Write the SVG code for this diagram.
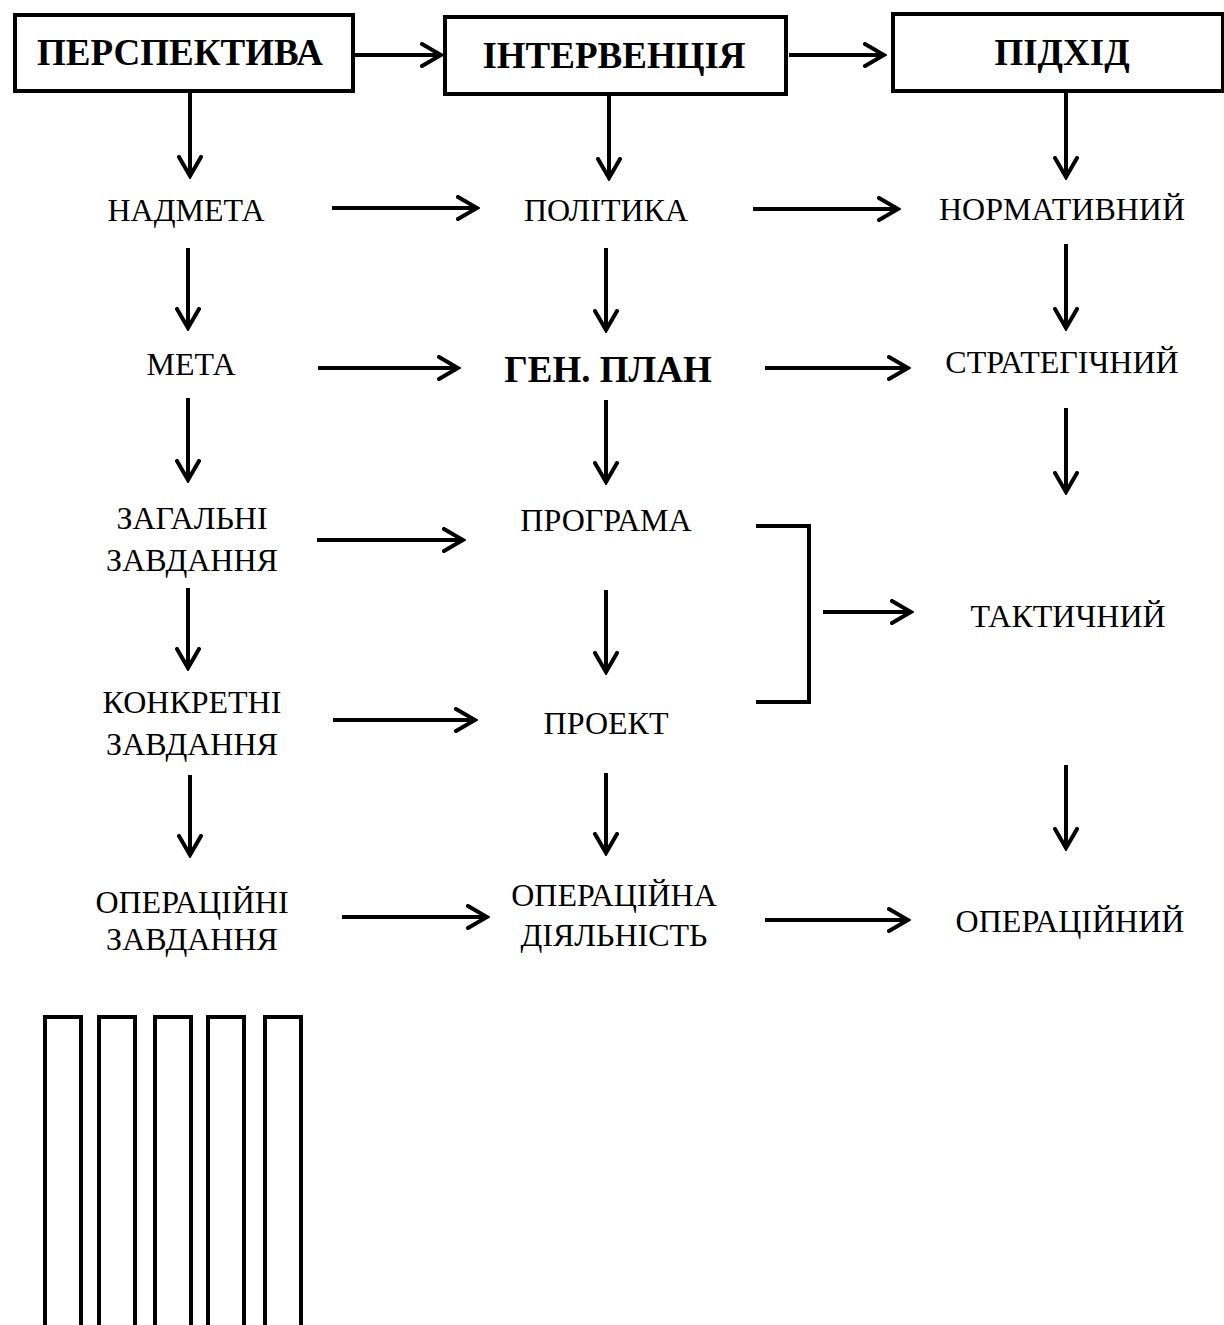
<svg xmlns="http://www.w3.org/2000/svg" width="1224" height="1325" viewBox="0 0 1224 1325">
<defs>
<marker id="ah" viewBox="0 0 24 26" markerWidth="24" markerHeight="26" markerUnits="userSpaceOnUse" refX="21" refY="13" orient="auto">
<path d="M2,2 L21,13 L2,24" fill="none" stroke="#000" stroke-width="4" stroke-linecap="round" stroke-linejoin="miter"/>
</marker>
</defs>
<style>
.box{fill:#fff;stroke:#000;stroke-width:4}
.hd{font-family:"Liberation Serif","Times New Roman",serif;font-weight:bold;font-size:37px;text-anchor:middle;fill:#000}
.t{font-family:"Liberation Serif","Times New Roman",serif;font-size:32px;text-anchor:middle;fill:#000}
.b{font-family:"Liberation Serif","Times New Roman",serif;font-weight:bold;font-size:37px;text-anchor:middle;fill:#000}
.c{stroke:#000;stroke-width:4;fill:none}
.a{stroke:#000;stroke-width:4;fill:none;marker-end:url(#ah)}
</style>
<rect width="1224" height="1325" fill="#fff"/>
<g id="connectors">
<line class="a" x1="355" y1="55" x2="441" y2="55"/>
<line class="a" x1="789" y1="55" x2="884" y2="55"/>
<line class="a" x1="190" y1="92" x2="190" y2="176"/>
<line class="a" x1="609" y1="96" x2="609" y2="178"/>
<line class="a" x1="1066" y1="92" x2="1066" y2="177"/>
<line class="a" x1="332" y1="208" x2="477" y2="208"/>
<line class="a" x1="753" y1="209" x2="898" y2="209"/>
<line class="a" x1="188" y1="248" x2="188" y2="328"/>
<line class="a" x1="606" y1="248" x2="606" y2="330"/>
<line class="a" x1="1066" y1="244" x2="1066" y2="328"/>
<line class="a" x1="318" y1="368" x2="458" y2="368"/>
<line class="a" x1="765" y1="368" x2="908" y2="368"/>
<line class="a" x1="188" y1="398" x2="188" y2="480"/>
<line class="a" x1="606" y1="400" x2="606" y2="482"/>
<line class="a" x1="1066" y1="408" x2="1066" y2="492"/>
<line class="a" x1="317" y1="540" x2="463" y2="540"/>
<path class="c" d="M756,526 H809 V702 H756"/>
<line class="a" x1="823" y1="612" x2="911" y2="612"/>
<line class="a" x1="188" y1="588" x2="188" y2="668"/>
<line class="a" x1="606" y1="590" x2="606" y2="672"/>
<line class="a" x1="333" y1="720" x2="475" y2="720"/>
<line class="a" x1="190" y1="775" x2="190" y2="855"/>
<line class="a" x1="606" y1="773" x2="606" y2="853"/>
<line class="a" x1="1066" y1="765" x2="1066" y2="848"/>
<line class="a" x1="342" y1="917" x2="487" y2="917"/>
<line class="a" x1="765" y1="920" x2="908" y2="920"/>
</g>
<g id="n-perspektyva"><rect class="box" x="15" y="15" width="338" height="76"/><text class="hd" x="180" y="65">ПЕРСПЕКТИВА</text></g>
<g id="n-interventsiya"><rect class="box" x="445" y="17" width="341" height="77"/><text class="hd" x="614" y="68">ІНТЕРВЕНЦІЯ</text></g>
<g id="n-pidkhid"><rect class="box" x="893" y="14" width="330" height="77"/><text class="hd" x="1062" y="65">ПІДХІД</text></g>
<g id="n-nadmeta"><text class="t" x="186" y="221">НАДМЕТА</text></g>
<g id="n-polityka"><text class="t" x="606" y="221">ПОЛІТИКА</text></g>
<g id="n-normatyvnyi"><text class="t" x="1062" y="220">НОРМАТИВНИЙ</text></g>
<g id="n-meta"><text class="t" x="191" y="375">МЕТА</text></g>
<g id="n-genplan"><text class="b" x="608" y="382">ГЕН. ПЛАН</text></g>
<g id="n-stratehichnyi"><text class="t" x="1062" y="373">СТРАТЕГІЧНИЙ</text></g>
<g id="n-zahalni"><text class="t" x="192" y="529">ЗАГАЛЬНІ</text><text class="t" x="192" y="571">ЗАВДАННЯ</text></g>
<g id="n-prohrama"><text class="t" x="606" y="531">ПРОГРАМА</text></g>
<g id="n-taktychnyi"><text class="t" x="1068" y="627">ТАКТИЧНИЙ</text></g>
<g id="n-konkretni"><text class="t" x="192" y="713">КОНКРЕТНІ</text><text class="t" x="192" y="755">ЗАВДАННЯ</text></g>
<g id="n-proekt"><text class="t" x="606" y="734">ПРОЕКТ</text></g>
<g id="n-operatsiini"><text class="t" x="192" y="913">ОПЕРАЦІЙНІ</text><text class="t" x="192" y="950">ЗАВДАННЯ</text></g>
<g id="n-operatsiina"><text class="t" x="614" y="906">ОПЕРАЦІЙНА</text><text class="t" x="614" y="946">ДІЯЛЬНІСТЬ</text></g>
<g id="n-operatsiinyi"><text class="t" x="1070" y="932">ОПЕРАЦІЙНИЙ</text></g>
<g id="bars">
<path class="c" d="M45,1330 V1017 H81 V1330"/>
<path class="c" d="M99,1330 V1017 H135 V1330"/>
<path class="c" d="M155,1330 V1017 H191 V1330"/>
<path class="c" d="M208,1330 V1017 H244 V1330"/>
<path class="c" d="M265,1330 V1017 H301 V1330"/>
</g>
</svg>
